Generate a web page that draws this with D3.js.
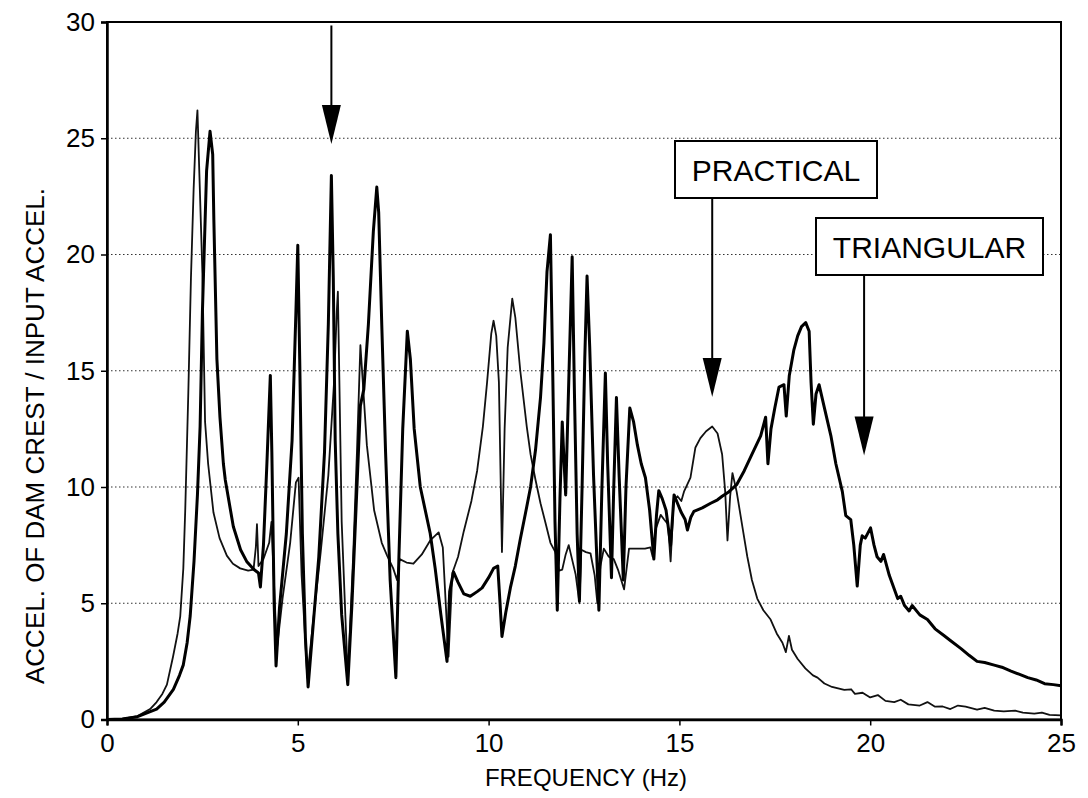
<!DOCTYPE html>
<html>
<head>
<meta charset="utf-8">
<script src="https://cdn.jsdelivr.net/npm/d3@7"></script>
<style>
  body { margin: 0; background: #fff; }
  svg { display: block; font-family: "Liberation Sans", Arial, Helvetica, sans-serif; }
</style>
</head>
<body>
<svg width="1088" height="798"></svg>
<script>
// response curves
var practicalFreq = [0, 0.4, 0.8, 1.13, 1.3, 1.45, 1.57, 1.73, 1.85, 1.92, 2.0, 2.05, 2.13, 2.2, 2.27, 2.33, 2.37, 2.42, 2.5, 2.57, 2.65, 2.79, 2.95, 3.14, 3.3, 3.49, 3.7, 3.84, 3.9, 3.93, 3.97, 4.1, 4.25, 4.31, 4.36, 4.45, 4.6, 4.8, 4.95, 5.02, 5.1, 5.25, 5.4, 5.6, 5.8, 5.95, 6.02, 6.05, 6.08, 6.15, 6.31, 6.45, 6.55, 6.64, 6.7, 6.81, 7.0, 7.2, 7.34, 7.5, 7.6, 7.67, 7.85, 8.03, 8.25, 8.47, 8.69, 8.8, 8.87, 8.95, 9.05, 9.2, 9.35, 9.55, 9.7, 9.85, 9.96, 10.07, 10.13, 10.2, 10.27, 10.35, 10.42, 10.5, 10.62, 10.7, 10.83, 11.0, 11.1, 11.23, 11.36, 11.5, 11.62, 11.75, 11.85, 11.93, 12.02, 12.1, 12.2, 12.28, 12.38, 12.43, 12.55, 12.67, 12.78, 12.85, 12.93, 13.02, 13.15, 13.28, 13.4, 13.55, 13.68, 13.9, 14.1, 14.24, 14.3, 14.38, 14.51, 14.6, 14.7, 14.77, 14.85, 14.95, 15.05, 15.12, 15.29, 15.42, 15.55, 15.7, 15.86, 16.0, 16.12, 16.2, 16.26, 16.33, 16.39, 16.5, 16.65, 16.78, 16.9, 17.04, 17.2, 17.39, 17.55, 17.7, 17.79, 17.87, 17.95, 18.1, 18.3, 18.5, 18.62, 18.8, 19.0, 19.32, 19.5, 19.6, 19.8, 20.0, 20.2, 20.4, 20.63, 20.8, 21.0, 21.3, 21.5, 21.7, 21.9, 22.1, 22.3, 22.5, 22.8, 23.0, 23.25, 23.5, 23.8, 24.0, 24.3, 24.5, 24.7, 25.0];
var practicalAccel = [0, 0.03, 0.15, 0.45, 0.75, 1.1, 1.5, 2.7, 3.7, 4.45, 6.5, 9.0, 14.0, 19.0, 22.8, 25.3, 26.2, 23.5, 19.2, 12.8, 11.0, 8.9, 7.8, 7.05, 6.7, 6.5, 6.4, 6.45, 7.4, 8.4, 6.6, 6.9, 7.6, 8.5, 6.5, 3.0, 5.2, 7.6, 10.2, 10.4, 6.2, 1.8, 4.2, 7.2, 10.5, 14.5, 17.5, 18.4, 15.5, 8.5, 1.8, 7.0, 11.5, 16.1, 14.6, 11.8, 9.0, 7.6, 7.05, 6.5, 6.0, 6.9, 6.75, 6.7, 7.1, 7.7, 8.05, 7.4, 5.2, 2.7, 6.3, 7.0, 8.1, 9.4, 10.7, 12.6, 14.5, 16.6, 17.15, 16.5, 14.5, 7.2, 12.5, 16.0, 18.1, 17.3, 15.0, 12.6, 11.4, 10.3, 9.3, 8.4, 7.6, 7.2, 6.4, 6.45, 7.1, 7.5, 6.8, 6.25, 5.0, 7.3, 7.2, 7.15, 6.2, 5.0, 6.6, 7.35, 7.0, 6.9, 6.4, 5.6, 7.35, 7.35, 7.35, 7.4, 7.0, 8.2, 8.8, 8.6, 8.4, 6.8, 9.4, 9.6, 9.4, 9.8, 10.4, 11.7, 12.1, 12.4, 12.6, 12.3, 11.4, 9.8, 7.7, 9.6, 10.6, 9.8, 8.3, 7.0, 6.0, 5.2, 4.7, 4.3, 3.7, 3.3, 2.9, 3.6, 3.0, 2.6, 2.2, 1.9, 1.8, 1.55, 1.4, 1.27, 1.3, 1.1, 1.15, 0.95, 1.05, 0.8, 0.75, 0.85, 0.65, 0.6, 0.75, 0.55, 0.56, 0.45, 0.6, 0.55, 0.42, 0.5, 0.38, 0.35, 0.38, 0.3, 0.25, 0.3, 0.2, 0.18];

var triangularFreq = [0, 0.4, 0.8, 1.3, 1.5, 1.74, 1.9, 2.0, 2.1, 2.18, 2.28, 2.37, 2.44, 2.5, 2.53, 2.61, 2.7, 2.77, 2.8, 2.88, 2.96, 3.05, 3.1, 3.31, 3.5, 3.66, 3.85, 3.97, 4.02, 4.1, 4.19, 4.28, 4.32, 4.38, 4.43, 4.52, 4.7, 4.85, 4.95, 5.0, 5.05, 5.12, 5.2, 5.27, 5.4, 5.55, 5.7, 5.8, 5.88, 5.93, 5.98, 6.05, 6.15, 6.31, 6.42, 6.55, 6.64, 6.73, 6.85, 6.98, 7.07, 7.12, 7.2, 7.3, 7.42, 7.57, 7.65, 7.75, 7.87, 7.95, 8.05, 8.21, 8.47, 8.6, 8.75, 8.91, 8.98, 9.08, 9.2, 9.35, 9.52, 9.7, 9.83, 10.0, 10.13, 10.24, 10.3, 10.35, 10.45, 10.57, 10.7, 10.83, 10.97, 11.1, 11.23, 11.36, 11.45, 11.53, 11.62, 11.68, 11.74, 11.8, 11.87, 11.93, 11.98, 12.02, 12.1, 12.19, 12.25, 12.32, 12.38, 12.45, 12.52, 12.58, 12.65, 12.75, 12.89, 12.97, 13.06, 13.12, 13.22, 13.28, 13.35, 13.42, 13.53, 13.6, 13.7, 13.8, 13.9, 14.0, 14.11, 14.22, 14.33, 14.4, 14.46, 14.55, 14.65, 14.77, 14.86, 14.95, 15.05, 15.15, 15.21, 15.3, 15.38, 15.6, 15.82, 16.0, 16.12, 16.3, 16.5, 16.7, 16.9, 17.13, 17.26, 17.32, 17.4, 17.5, 17.61, 17.74, 17.8, 17.88, 18.0, 18.1, 18.2, 18.31, 18.4, 18.45, 18.51, 18.58, 18.66, 18.8, 18.97, 19.1, 19.27, 19.36, 19.49, 19.57, 19.66, 19.74, 19.79, 19.87, 20.01, 20.1, 20.18, 20.28, 20.35, 20.5, 20.72, 20.8, 20.9, 21.02, 21.1, 21.3, 21.5, 21.7, 21.94, 22.1, 22.38, 22.6, 22.8, 23.0, 23.25, 23.45, 23.69, 23.9, 24.13, 24.35, 24.57, 24.8, 25.0];
var triangularAccel = [0, 0.02, 0.12, 0.45, 0.75, 1.3, 1.9, 2.35, 3.3, 4.45, 6.8, 9.66, 12.6, 17.5, 19.2, 23.6, 25.3, 24.3, 21.5, 15.5, 13.0, 11.0, 10.3, 8.3, 7.3, 6.8, 6.45, 6.3, 5.7, 7.5, 11.0, 14.8, 11.5, 5.0, 2.3, 4.8, 8.0, 12.0, 17.5, 20.4, 15.5, 8.0, 3.5, 1.4, 4.0, 7.0, 11.5, 17.0, 23.4, 19.0, 12.0, 8.0, 4.5, 1.5, 5.0, 10.0, 13.5, 14.2, 17.0, 21.0, 22.9, 21.8, 17.0, 11.5, 6.0, 1.8, 7.0, 12.5, 16.7, 15.5, 12.5, 10.0, 8.0, 6.5, 4.5, 2.5, 5.5, 6.35, 5.9, 5.4, 5.3, 5.5, 5.66, 6.1, 6.5, 6.6, 5.0, 3.57, 4.6, 5.66, 6.6, 7.75, 8.9, 10.0, 11.6, 13.84, 16.2, 19.25, 20.85, 15.0, 8.5, 4.7, 9.5, 12.8, 11.0, 9.66, 14.5, 19.9, 14.0, 8.0, 5.1, 10.0, 15.5, 19.07, 16.0, 10.5, 4.7, 10.0, 14.9, 11.0, 6.1, 10.0, 13.85, 10.5, 6.0, 10.0, 13.4, 12.8, 11.8, 11.0, 10.4, 9.0, 6.9, 8.8, 9.84, 9.5, 9.0, 7.5, 9.66, 9.3, 8.9, 8.6, 8.15, 8.7, 8.95, 9.1, 9.3, 9.45, 9.6, 9.8, 10.1, 10.7, 11.4, 12.2, 13.0, 11.0, 12.5, 13.4, 14.3, 14.4, 13.05, 14.8, 15.9, 16.5, 16.9, 17.07, 16.7, 14.5, 12.7, 14.0, 14.4, 13.4, 12.2, 11.0, 9.8, 8.77, 8.6, 7.5, 5.74, 7.5, 7.9, 7.8, 8.24, 7.5, 7.0, 6.8, 7.1, 6.2, 5.2, 5.3, 4.9, 4.67, 4.9, 4.5, 4.3, 3.9, 3.6, 3.4, 3.05, 2.75, 2.5, 2.45, 2.34, 2.25, 2.08, 1.95, 1.8, 1.7, 1.54, 1.5, 1.45];

var xTicks = [0, 5, 10, 15, 20, 25];
var yTicks = [0, 5, 10, 15, 20, 25, 30];
var gridValues = [5, 10, 15, 20, 25];

// callouts: label text and the point (Hz, ratio) the arrow tip sits on
var arrowTip = {freq: 5.88, accel: 24.75};
var labelNames = ["PRACTICAL", "TRIANGULAR"];
var labelTipFreq = [15.86, 19.84];
var labelTipAccel = [13.87, 11.36];

var width = 1088;
var height = 798;
var margin = {left: 107, right: 27, top: 22, bottom: 78.5};

var xScale = d3.scaleLinear().domain([0, 25]).range([margin.left, width - margin.right]);
var yScale = d3.scaleLinear().domain([0, 30]).range([height - margin.bottom, margin.top]);

var svg = d3.select('svg');

function toPoints(freqs, accels) {
  return freqs.map(function (f, i) { return [f, accels[i]]; });
}

var line = d3.line()
  .x(function (d) { return xScale(d[0]); })
  .y(function (d) { return yScale(d[1]); });

// dotted grid
svg.append('g')
  .selectAll('line')
  .data(gridValues)
  .enter()
  .append('line')
  .attr('x1', xScale(0))
  .attr('x2', xScale(25))
  .attr('y1', yScale)
  .attr('y2', yScale)
  .attr('stroke', '#333')
  .attr('stroke-width', 1.2)
  .attr('stroke-dasharray', '1.5,2.5');

// curves
svg.append('path')
  .datum(toPoints(practicalFreq, practicalAccel))
  .attr('d', line)
  .attr('fill', 'none')
  .attr('stroke', '#111')
  .attr('stroke-width', 1.8)
  .attr('stroke-linejoin', 'round');

svg.append('path')
  .datum(toPoints(triangularFreq, triangularAccel))
  .attr('d', line)
  .attr('fill', 'none')
  .attr('stroke', '#000')
  .attr('stroke-width', 3)
  .attr('stroke-linejoin', 'round');

// frame
svg.append('rect')
  .attr('x', xScale(0))
  .attr('y', yScale(30))
  .attr('width', xScale(25) - xScale(0))
  .attr('height', yScale(0) - yScale(30))
  .attr('fill', 'none')
  .attr('stroke', '#000')
  .attr('stroke-width', 2);

var axisBottom = d3.axisBottom(xScale).tickValues(xTicks).tickSize(6).tickPadding(6).tickFormat(d3.format('d'));
var axisLeft = d3.axisLeft(yScale).tickValues(yTicks).tickSize(6).tickPadding(6).tickFormat(d3.format('d'));

var gx = svg.append('g')
  .attr('transform', 'translate(0,' + yScale(0) + ')')
  .call(axisBottom);

var gy = svg.append('g')
  .attr('transform', 'translate(' + xScale(0) + ',0)')
  .call(axisLeft);

[gx, gy].forEach(function (g) {
  g.select('.domain').attr('stroke', '#000').attr('stroke-width', 2.5);
  g.selectAll('.tick line').attr('stroke', '#000').attr('stroke-width', 1.5);
  g.selectAll('.tick text')
    .attr('fill', '#000')
    .style('font-size', '26px')
    .style('font-family', '"Liberation Sans", Arial, sans-serif');
});
gx.selectAll('.tick text').attr('dy', '0.78em');

// axis titles
svg.append('text')
  .attr('x', (xScale(0) + xScale(25)) / 2 + 2)
  .attr('y', 786)
  .attr('text-anchor', 'middle')
  .style('font-size', '24px')
  .text('FREQUENCY (Hz)');

svg.append('text')
  .attr('transform', 'rotate(-90)')
  .attr('x', -436)
  .attr('y', 44)
  .attr('text-anchor', 'middle')
  .style('font-size', '26px')
  .text('ACCEL. OF DAM CREST / INPUT ACCEL.');

// arrows
function drawArrow(xp, yTop, yTip) {
  svg.append('line')
    .attr('x1', xp).attr('x2', xp)
    .attr('y1', yTop).attr('y2', yTip - 30)
    .attr('stroke', '#000')
    .attr('stroke-width', 2);
  svg.append('path')
    .attr('d', 'M' + (xp - 9.5) + ',' + (yTip - 39) + 'L' + (xp + 9.5) + ',' + (yTip - 39) + 'L' + xp + ',' + yTip + 'Z')
    .attr('fill', '#000');
}

drawArrow(xScale(arrowTip.freq), yScale(29.85), yScale(arrowTip.accel));

var boxes = [
  {left: 675, top: 141, w: 202, h: 57},
  {left: 816, top: 218, w: 227, h: 57}
];

labelNames.forEach(function (name, i) {
  var b = boxes[i];
  svg.append('rect')
    .attr('x', b.left).attr('y', b.top)
    .attr('width', b.w).attr('height', b.h)
    .attr('fill', '#fff')
    .attr('stroke', '#000')
    .attr('stroke-width', 2);
  svg.append('text')
    .attr('x', b.left + b.w / 2)
    .attr('y', b.top + b.h / 2 + 11)
    .attr('text-anchor', 'middle')
    .style('font-size', '30px')
    .text(name);
  drawArrow(xScale(labelTipFreq[i]), b.top + b.h, yScale(labelTipAccel[i]));
});
</script>
</body>
</html>
